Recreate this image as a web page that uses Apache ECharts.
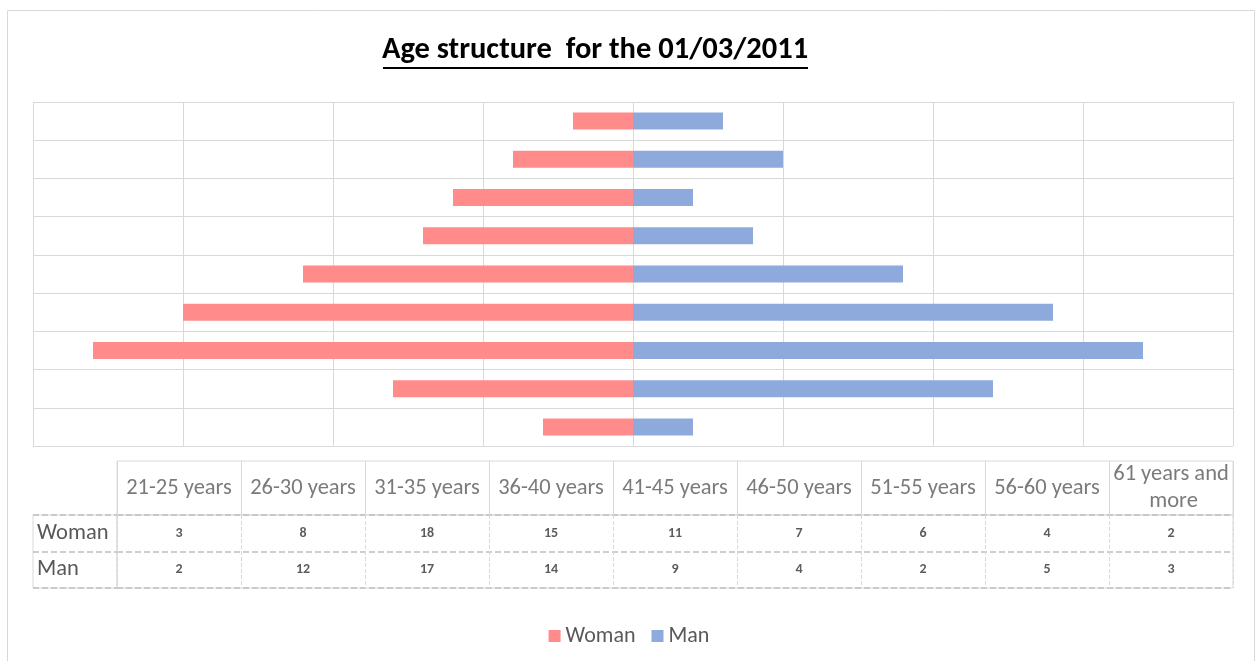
<!DOCTYPE html>
<html>
<head>
<meta charset="utf-8">
<script src="https://cdn.jsdelivr.net/npm/echarts@6/dist/echarts.min.js"></script>
<style>html,body{margin:0;padding:0;background:#fff;}#c{width:1258px;height:661px;}</style>
</head>
<body>
<div id="c"></div>
<script>
var categories = ['21-25 years','26-30 years','31-35 years','36-40 years','41-45 years','46-50 years','51-55 years','56-60 years','61 years and more'];
var woman = [3, 8, 18, 15, 11, 7, 6, 4, 2];
var man = [2, 12, 17, 14, 9, 4, 2, 5, 3];
var rowNames = ['Woman', 'Man'];
var titleText = 'Age structure  for the 01/03/2011';

var FONT = 'Carlito, Lato, "Open Sans", sans-serif';
var GRID_C = '#d9d9d9';
var TXT = '#595959';

var chart = echarts.init(document.getElementById('c'));

var headerData = categories.map(function (c) { return [c, 0.5]; });
var cellData = [];
categories.forEach(function (c, i) {
  cellData.push([c, 'Woman', woman[i]]);
  cellData.push([c, 'Man', man[i]]);
});

chart.setOption({
  animation: false,
  backgroundColor: '#fff',
  graphic: [
    { type: 'rect', shape: { x: 7.5, y: 10.5, width: 1247, height: 660 }, style: { fill: 'none', stroke: '#d9d9d9', lineWidth: 1 }, silent: true },
    { type: 'text', x: 595, y: 50, style: { text: titleText, fontFamily: FONT, fontWeight: 'bold', fontSize: 30.5, fill: '#000', textAlign: 'center', textVerticalAlign: 'middle' } },
    { type: 'line', shape: { x1: 383, y1: 68, x2: 808, y2: 68 }, style: { stroke: '#000', lineWidth: 2 } }
  ],
  legend: {
    bottom: 9,
    left: 'center',
    data: ['Woman', 'Man'],
    icon: 'rect',
    itemWidth: 12,
    itemHeight: 12,
    itemGap: 16,
    itemTextGap: 8,
    textStyle: { color: TXT, fontSize: 22, fontFamily: FONT }
  },
  grid: [
    { left: 33, top: 102, width: 1200, height: 344 },
    { left: 117, top: 461, width: 1116, height: 54, show: true, borderColor: GRID_C, borderWidth: 1 },
    { left: 117, top: 515, width: 1116, height: 73, show: true, borderColor: GRID_C, borderWidth: 1 },
    { left: 33, top: 515, width: 84, height: 73, show: true, borderColor: GRID_C, borderWidth: 1 }
  ],
  xAxis: [
    { gridIndex: 0, type: 'value', min: -20, max: 20, interval: 5,
      axisLabel: { show: false }, axisLine: { show: false }, axisTick: { show: false },
      splitLine: { show: true, lineStyle: { color: GRID_C, width: 1 } } },
    { gridIndex: 1, type: 'category', data: categories, boundaryGap: true,
      axisLabel: { show: false, interval: 0 }, axisLine: { show: false }, axisTick: { show: false, interval: 0 },
      splitLine: { show: true, interval: 0, lineStyle: { color: GRID_C } } },
    { gridIndex: 2, type: 'category', data: categories, boundaryGap: true,
      axisLabel: { show: false, interval: 0 }, axisLine: { show: false }, axisTick: { show: false, interval: 0 },
      splitLine: { show: true, interval: 0, lineStyle: { color: GRID_C, type: 'dashed' } } },
    { gridIndex: 3, type: 'value', show: false }
  ],
  yAxis: [
    { gridIndex: 0, type: 'category', data: categories,
      axisLabel: { show: false }, axisLine: { show: false }, axisTick: { show: false },
      splitLine: { show: true, interval: 0, lineStyle: { color: GRID_C, width: 1 } } },
    { gridIndex: 1, type: 'value', min: 0, max: 1, show: false },
    { gridIndex: 2, type: 'category', data: rowNames, inverse: true,
      axisLine: { show: false }, axisTick: { show: false },
      axisLabel: { show: true, interval: 0, align: 'left', margin: 80, color: TXT, fontSize: 22.5, fontFamily: FONT },
      splitLine: { show: true, interval: 0, lineStyle: { color: '#bfbfbf', type: 'dashed', width: 1.5 } } },
    { gridIndex: 3, type: 'category', data: rowNames, inverse: true,
      axisLine: { show: false }, axisTick: { show: false }, axisLabel: { show: false },
      splitLine: { show: true, interval: 0, lineStyle: { color: '#bfbfbf', type: 'dashed', width: 1.5 } } }
  ],
  series: [
    { name: 'Woman', type: 'bar', xAxisIndex: 0, yAxisIndex: 0, stack: 'pyr', barWidth: 17,
      itemStyle: { color: '#ff8b8b' },
      data: woman.map(function (v) { return -v; }) },
    { name: 'Man', type: 'bar', xAxisIndex: 0, yAxisIndex: 0, stack: 'pyr', barWidth: 17,
      itemStyle: { color: '#8eaadc' },
      data: man },
    { type: 'scatter', xAxisIndex: 1, yAxisIndex: 1, symbolSize: 0, silent: true,
      data: headerData,
      label: { show: true, position: 'inside', formatter: function (p) { return p.value[0]; },
        color: TXT, fontSize: 22.5, fontFamily: FONT, width: 120, overflow: 'break', lineHeight: 27, align: 'center' } },
    { type: 'scatter', xAxisIndex: 2, yAxisIndex: 2, symbolSize: 0, silent: true,
      data: cellData,
      label: { show: true, position: 'inside', formatter: function (p) { return p.value[2]; },
        color: '#333', fontSize: 14, fontWeight: 'bold', fontFamily: FONT } }
  ]
});
</script>
</body>
</html>
